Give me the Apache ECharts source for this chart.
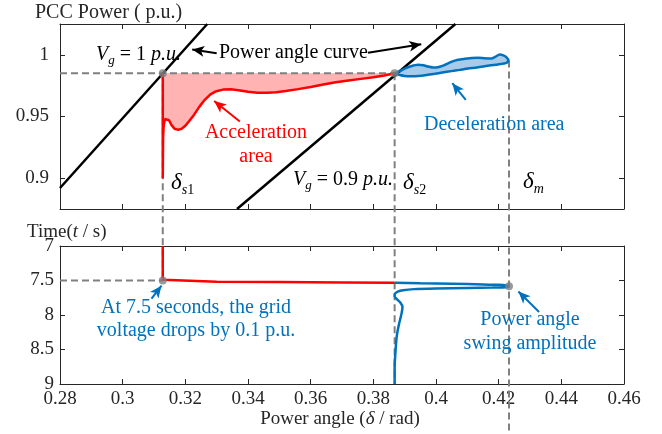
<!DOCTYPE html>
<html><head><meta charset="utf-8">
<script src="https://cdn.jsdelivr.net/npm/echarts@6/dist/echarts.min.js"></script>
<style>html,body{margin:0;padding:0;background:#fff}#c{width:662px;height:434px}</style>
</head><body><div id="c"></div>
<script>
// ---------- data ----------
const xTicks = [0.28, 0.30, 0.32, 0.34, 0.36, 0.38, 0.40, 0.42, 0.44, 0.46];
const powerTicks = [0.9, 0.95, 1];
const timeTicks = [7, 7.5, 8, 8.5, 9];

const deltaS1 = 0.3128, deltaS2 = 0.3868, deltaM = 0.4233;
const P0 = 0.985;
const tFault = 7.5;

// power-angle curves (Vg = 1 and Vg = 0.9)
const curveVg1Delta = [0.28, 0.3270];
const curveVg1Power = [0.892, 1.025];
const curveVg09Delta = [0.3365, 0.4062];
const curveVg09Power = [0.875, 1.025];

// red trajectory (top panel)
const redTopDelta = [0.3128,0.3128,0.3129,0.3131,0.3135,0.3141,0.3148,0.3156,0.3166,0.3177,0.3188,0.3200,0.3213,0.3228,0.3245,0.3262,0.3280,0.3299,0.3320,0.3345,0.3370,0.3400,0.3430,0.3460,0.3490,0.3520,0.3560,0.3600,0.3640,0.3680,0.3720,0.3760,0.3800,0.3835,0.3868];
const redTopPower = [0.9850,0.9000,0.9330,0.9430,0.9480,0.9490,0.9470,0.9430,0.9400,0.9392,0.9400,0.9425,0.9465,0.9515,0.9580,0.9635,0.9680,0.9705,0.9718,0.9720,0.9713,0.9700,0.9693,0.9692,0.9697,0.9706,0.9722,0.9740,0.9760,0.9778,0.9792,0.9805,0.9818,0.9832,0.9850];

// blue loop (top panel)
const blueTopDelta = [0.3868,0.3885,0.3900,0.3920,0.3943,0.3960,0.3974,0.3990,0.4006,0.4025,0.4049,0.4070,0.4092,0.4115,0.4134,0.4155,0.4177,0.4190,0.4203,0.4215,0.4225,0.4231,0.4225,0.4198,0.4175,0.4155,0.4130,0.4102,0.4075,0.4049,0.4020,0.3996,0.3970,0.3943,0.3920,0.3900,0.3885,0.3868];
const blueTopPower = [0.9850,0.9868,0.9889,0.9908,0.9920,0.9915,0.9905,0.9898,0.9900,0.9915,0.9943,0.9960,0.9968,0.9975,0.9976,0.9972,0.9970,0.9985,1.0002,0.9995,0.9980,0.9955,0.9935,0.9922,0.9915,0.9908,0.9898,0.9889,0.9878,0.9868,0.9856,0.9846,0.9836,0.9828,0.9826,0.9828,0.9836,0.9850];

// bottom panel trajectories (delta vs time)
const redBottomDelta = [0.3128,0.3128,0.3132,0.3300,0.3500,0.3700,0.3868];
const redBottomTime  = [7.000,7.490,7.512,7.517,7.522,7.528,7.533];
const blueBottomDelta = [0.3868,0.3950,0.4050,0.4150,0.4200,0.4225,0.4233,0.4225,0.4180,0.4100,0.4000,0.3930,0.3895,0.3878,0.3869,0.3868,0.3875,0.3886,0.3893,0.3890,0.3882,0.3875,0.3871,0.3868,0.3868];
const blueBottomTime  = [7.533,7.540,7.548,7.557,7.563,7.572,7.585,7.598,7.603,7.608,7.616,7.625,7.640,7.660,7.690,7.730,7.770,7.820,7.880,7.980,8.130,8.300,8.510,8.750,9.000];

// annotation arrows [fromDelta, fromY, toDelta, toY]
const arrowsTop = [
  {from:[0.3300,1.0012], to:[0.3222,1.0043], color:'#000'},
  {from:[0.3783,1.0016], to:[0.3953,1.0086], color:'#000'},
  {from:[0.3374,0.9459], to:[0.3292,0.9625], color:'#FF0000'},
  {from:[0.4095,0.9635], to:[0.4052,0.9770], color:'#0072BD'}
];
const arrowsBottom = [
  {from:[0.3092,7.763], to:[0.3124,7.575], color:'#0072BD'},
  {from:[0.4329,7.956], to:[0.4263,7.660], color:'#0072BD'}
];

// ---------- chart ----------
const FONT = '"Liberation Serif", "Times New Roman", serif';
const BLUE = '#0072BD', RED = '#FF0000', GRAY = '#808080', DARK = '#262626';
const zip = (a, b) => a.map((v, i) => [v, b[i]]);
const fmt = v => String(+(+v).toFixed(3));
const axLine = {color: DARK, width: 1};

function xAx(gi, pos, show) {
  return {type:'value', gridIndex:gi, position:pos, min:0.28, max:0.46,
    axisLine:{show:true, onZero:false, lineStyle:axLine},
    axisTick:{show:true, inside:true, length:5, customValues:xTicks, lineStyle:axLine},
    axisLabel:{show:show, customValues:xTicks, formatter:fmt, fontFamily:FONT, fontSize:19, color:DARK, margin:6},
    splitLine:{show:false}};
}
function yAx(gi, pos, show, min, max, ticks, inverse, margin) {
  return {type:'value', gridIndex:gi, position:pos, min:min, max:max, inverse:inverse,
    axisLine:{show:true, onZero:false, lineStyle:axLine},
    axisTick:{show:true, inside:true, length:5, customValues:ticks, lineStyle:axLine},
    axisLabel:{show:show, customValues:ticks, formatter:fmt, fontFamily:FONT, fontSize:19, color:DARK, margin:margin},
    splitLine:{show:false}};
}
function polygon(points, fill, xi, yi) {
  return {type:'custom', xAxisIndex:xi, yAxisIndex:yi, data:points, silent:true, z:1, clip:true,
    renderItem:(params, api) => {
      if (params.dataIndex !== 0) return null;
      return {type:'polygon', shape:{points:points.map(p => api.coord(p))}, style:{fill:fill}};
    }};
}
function line(data, color, width, xi, yi, extra) {
  return Object.assign({type:'line', xAxisIndex:xi, yAxisIndex:yi, data:data, symbol:'none', silent:true,
    lineStyle:{color:color, width:width}, z:3}, extra || {});
}
function arrowMark(list) {
  return {silent:true, symbol:['none','arrow'], symbolSize:[8,12], animation:false, label:{show:false},
    data:list.map(a => [{coord:a.from, lineStyle:{color:a.color, width:2, type:'solid'}, itemStyle:{color:a.color}}, {coord:a.to}])};
}

const accelPoly = [[deltaS1, P0]].concat(zip(redTopDelta, redTopPower).slice(2));
const decelPoly = zip(blueTopDelta, blueTopPower);

const chart = echarts.init(document.getElementById('c'));
chart.setOption({
  animation:false,
  backgroundColor:'#fff',
  grid:[
    {left:60, top:24, width:564, height:185},
    {left:60, top:246, width:564, height:138}
  ],
  xAxis:[xAx(0,'bottom',false), xAx(0,'top',false), xAx(1,'bottom',true), xAx(1,'top',false)],
  yAxis:[
    yAx(0,'left',true,0.875,1.025,powerTicks,false,11),
    yAx(0,'right',false,0.875,1.025,powerTicks,false,11),
    yAx(1,'left',true,7,9,timeTicks,true,6),
    yAx(1,'right',false,7,9,timeTicks,true,6)
  ],
  series:[
    polygon(accelPoly, '#FFB3B3', 0, 0),
    polygon(decelPoly, '#A9CBEA', 0, 0),
    line(zip(curveVg1Delta, curveVg1Power), '#000', 2.5, 0, 0),
    line(zip(curveVg09Delta, curveVg09Power), '#000', 2.5, 0, 0),
    line([[0.28, P0], [deltaS2, P0]], GRAY, 2, 0, 0, {lineStyle:{color:GRAY, width:2, type:[7,4]}, z:2, markLine:arrowMark(arrowsTop)}),
    line(zip(redTopDelta, redTopPower), RED, 2.5, 0, 0, {z:4}),
    line(decelPoly, BLUE, 2.5, 0, 0, {z:4, smooth:0.2}),
    {type:'scatter', xAxisIndex:0, yAxisIndex:0, data:[[deltaS1, P0],[deltaS2, P0]], symbolSize:8, itemStyle:{color:GRAY}, z:6, silent:true},
    // bottom
    line([[0.28, tFault],[deltaS1, tFault]], GRAY, 2, 2, 2, {lineStyle:{color:GRAY, width:2, type:[7,4]}, z:2, markLine:arrowMark(arrowsBottom)}),
    line(zip(redBottomDelta, redBottomTime), RED, 2.5, 2, 2, {z:4}),
    line(zip(blueBottomDelta, blueBottomTime), BLUE, 2.5, 2, 2, {z:4, smooth:0.2}),
    {type:'scatter', xAxisIndex:2, yAxisIndex:2, data:[[deltaS1, tFault],[deltaM, blueBottomTime[blueBottomDelta.indexOf(Math.max(...blueBottomDelta))]]], symbolSize:8, itemStyle:{color:GRAY}, z:6, silent:true}
  ]
});

// ---------- texts & cross-panel guide lines ----------
const mctx = document.createElement('canvas').getContext('2d');
function tw(t, size, it) { mctx.font = (it ? 'italic ' : '') + size + 'px ' + FONT; return mctx.measureText(t).width; }
function rich(tokens, x, cy, color, align) {
  const total = tokens.reduce((s, t) => s + tw(t[0], t[1], t[2]), 0);
  let cx = align === 'center' ? x - total / 2 : x;
  return tokens.map(t => {
    const el = {type:'text', x:cx, y:cy + (t[3] || 0), silent:true, z:10,
      style:{text:t[0], fontSize:t[1], fontStyle:t[2] ? 'italic' : 'normal', fontFamily:FONT, fill:color, verticalAlign:'middle', align:'left'}};
    cx += tw(t[0], t[1], t[2]);
    return el;
  });
}
const pTop = (x, y) => chart.convertToPixel({xAxisIndex:0, yAxisIndex:0}, [x, y]);
const pBot = (x, y) => chart.convertToPixel({xAxisIndex:2, yAxisIndex:2}, [x, y]);
const tipIdx = blueTopDelta.indexOf(Math.max(...blueTopDelta));
function dash(a, b) {
  return {type:'line', silent:true, z:1, shape:{x1:a[0], y1:a[1], x2:b[0], y2:b[1]}, style:{stroke:GRAY, lineWidth:2, lineDash:[7,4]}};
}
const s1a = pTop(deltaS1, P0), s1b = pBot(deltaS1, tFault);
const s2a = pTop(deltaS2, P0), s2b = pBot(deltaS2, 9);
const ma = pTop(deltaM, blueTopPower[tipIdx]);
const H = chart.getHeight();

let g = [dash(s1a, s1b), dash(s2a, s2b), dash(ma, [ma[0], H])];
g = g.concat(
  rich([['PCC Power ( p.u.)', 20]], 35, 13, DARK),
  rich([['Time(', 19], ['t', 19, true], [' / s)', 19]], 27, 232, DARK),
  rich([['Power angle (', 19], ['δ', 19, true], [' / rad)', 19]], 340, 419, DARK, 'center'),
  rich([['V', 20, true], ['g', 13, true, 6], [' = 1 ', 20], ['p.u.', 20, true]], 96, 55, '#000'),
  rich([['V', 20, true], ['g', 13, true, 6], [' = 0.9 ', 20], ['p.u.', 20, true]], 293, 180, '#000'),
  rich([['Power angle curve', 20]], 219, 53, '#000'),
  rich([['Acceleration', 20]], 256, 133, RED, 'center'),
  rich([['area', 20]], 256, 157, RED, 'center'),
  rich([['Deceleration area', 20]], 424, 125, BLUE),
  rich([['δ', 23, true], ['s', 14, true, 7], ['1', 14, false, 7]], 171, 183, '#000'),
  rich([['δ', 23, true], ['s', 14, true, 7], ['2', 14, false, 7]], 403, 183, '#000'),
  rich([['δ', 23, true], ['m', 14, true, 7]], 523, 182, '#000'),
  rich([['At 7.5 seconds, the grid', 20]], 196, 308, BLUE, 'center'),
  rich([['voltage drops by 0.1 p.u.', 20]], 196, 331, BLUE, 'center'),
  rich([['Power angle', 20]], 530, 320, BLUE, 'center'),
  rich([['swing amplitude', 20]], 530, 344, BLUE, 'center')
);
chart.setOption({graphic: g});
</script>
</body></html>
